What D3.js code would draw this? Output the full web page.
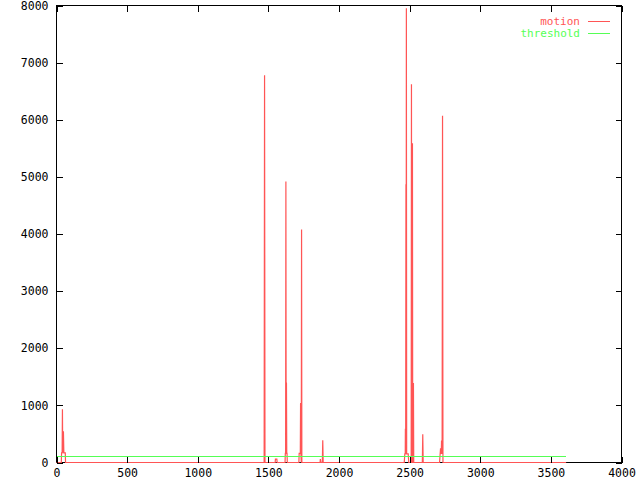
<!DOCTYPE html>
<html>
<head>
<meta charset="utf-8">
<script src="https://cdn.jsdelivr.net/npm/d3@7"></script>
<style>
html,body{margin:0;padding:0;background:#fff;}
svg{display:block;}
text{font-family:"DejaVu Sans Mono",monospace;font-size:11.5px;}
</style>
</head>
<body>
<svg id="chart" width="640" height="480"></svg>
<script>
// Motion series (time, value)
const motionT = [0, 34, 36, 40, 42, 44, 49, 52, 62, 64,
  1470, 1473, 1476,
  1548, 1550, 1560, 1562,
  1618, 1620, 1622, 1624, 1626, 1628, 1630, 1632, 1634,
  1716, 1718, 1724, 1726, 1728, 1730, 1733, 1735, 1737,
  1866, 1868, 1872,
  1882, 1885, 1888,
  2462, 2466, 2469, 2470, 2472, 2474, 2475, 2477, 2479, 2490, 2494,
  2508, 2511, 2513, 2515, 2518, 2520, 2522, 2525, 2527, 2529,
  2590, 2593, 2596,
  2712, 2716, 2719, 2724, 2726, 2730, 2733, 2736,
  3608];
const motionV = [0, 0, 170, 170, 930, 170, 545, 170, 170, 0,
  0, 6780, 0,
  0, 60, 60, 0,
  0, 160, 160, 4920, 160, 1400, 160, 160, 0,
  0, 160, 160, 160, 1040, 160, 0, 4080, 0,
  0, 60, 0,
  0, 390, 0,
  0, 150, 150, 590, 150, 4870, 150, 7950, 150, 150, 0,
  0, 0, 6620, 0, 0, 5590, 0, 0, 1390, 0,
  0, 495, 0,
  0, 150, 250, 150, 385, 150, 6070, 0,
  0];
const thresholdT = [0, 3608];
const thresholdV = [100, 100];
const xTicks = [0, 500, 1000, 1500, 2000, 2500, 3000, 3500, 4000];
const yTicks = [0, 1000, 2000, 3000, 4000, 5000, 6000, 7000, 8000];
const seriesNames = ["motion", "threshold"];
const seriesColors = ["#ff5555", "#55ff55"];

const svg = d3.select("#chart");
const L = 56.5, R = 621.5, T = 5.5, B = 462.5;
const x = d3.scaleLinear().domain([0, 4000]).range([L, R]);
const y = d3.scaleLinear().domain([0, 8000]).range([B, T]);

// border
svg.append("rect").attr("x", L).attr("y", T).attr("width", R - L).attr("height", B - T)
  .attr("fill", "none").attr("stroke", "#000").attr("stroke-width", 1)
  .attr("shape-rendering", "crispEdges");

const line = d3.line().x(d => x(d[0])).y(d => y(d[1]));
const motion = motionT.map((t, i) => [t, motionV[i]]);
const thresh = thresholdT.map((t, i) => [t, thresholdV[i]]);

svg.append("path").datum(motion).attr("d", line).attr("fill", "none")
  .attr("stroke", seriesColors[0]).attr("stroke-width", 1.2);
svg.append("path").datum(thresh).attr("d", line).attr("fill", "none")
  .attr("stroke", seriesColors[1]).attr("stroke-width", 1)
  .attr("shape-rendering", "crispEdges");

// axes (ticks inward, mirrored)
function styleAxis(g) {
  g.select(".domain").remove();
  g.selectAll("line").attr("stroke", "#000").attr("shape-rendering", "crispEdges");
  g.selectAll("text").attr("fill", "#000").style("font-family", "DejaVu Sans Mono, monospace").style("font-size", "11.5px");
}
svg.append("g").attr("transform", `translate(0,${B})`)
  .call(d3.axisBottom(x).tickValues(xTicks).tickSize(-6).tickPadding(6).tickFormat(d3.format("d")))
  .call(styleAxis);
svg.append("g").attr("transform", `translate(0,${T})`)
  .call(d3.axisTop(x).tickValues(xTicks).tickSize(-6).tickFormat(""))
  .call(styleAxis);
svg.append("g").attr("transform", `translate(${L},0)`)
  .call(d3.axisLeft(y).tickValues(yTicks).tickSize(-6).tickPadding(8).tickFormat(d3.format("d")))
  .call(styleAxis);
svg.append("g").attr("transform", `translate(${R},0)`)
  .call(d3.axisRight(y).tickValues(yTicks).tickSize(-6).tickFormat(""))
  .call(styleAxis);

// legend
const leg = svg.append("g");
seriesNames.forEach((name, i) => {
  const ly = 21 + i * 12;
  leg.append("text").attr("x", 580).attr("y", ly).attr("dy", "0.35em")
    .attr("text-anchor", "end").attr("fill", seriesColors[i])
    .style("font-size", "11px").text(name);
  leg.append("line").attr("x1", 588).attr("x2", 610).attr("y1", ly + 0.5).attr("y2", ly + 0.5)
    .attr("stroke", seriesColors[i]).attr("shape-rendering", "crispEdges");
});
</script>
</body>
</html>
